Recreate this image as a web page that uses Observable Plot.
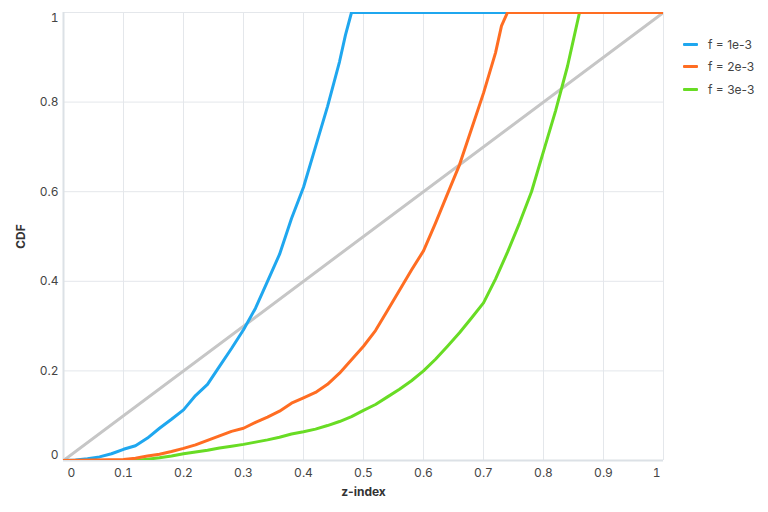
<!DOCTYPE html>
<html>
<head>
<meta charset="utf-8">
<script src="https://cdn.jsdelivr.net/npm/d3@7"></script>
<script src="https://cdn.jsdelivr.net/npm/@observablehq/plot@0.6"></script>
<style>
  body { margin: 0; background: #fff; font-family: Inter, "Noto Sans", sans-serif; }
  #wrap { position: relative; width: 768px; height: 512px; }
  g[aria-label="x-axis label"] text, g[aria-label="y-axis label"] text { font-weight: 700; fill: #333; }
  #legend { position: absolute; left: 683px; top: 33px; font-size: 12px; color: #444; }
  .row { display: flex; align-items: center; height: 22.5px; }
  .sw { width: 15px; height: 3px; margin-right: 10px; border-radius: 1px; }
</style>
</head>
<body>
<div id="wrap"><div id="legend"></div></div>
<script>
const seriesNames = ["f = 1e-3", "f = 2e-3", "f = 3e-3"];
const colors = ["#1fa7ef", "#ff6d22", "#68dc24"];
const diagColor = "#c6c6c6";

const blueX = [0, 0.02, 0.04, 0.06, 0.08, 0.10, 0.12, 0.14, 0.16, 0.18, 0.20, 0.22, 0.24, 0.26, 0.28, 0.30, 0.32, 0.34, 0.36, 0.38, 0.40, 0.42, 0.44, 0.46, 0.47, 0.48, 1.0];
const blueY = [0, 0.001, 0.004, 0.008, 0.015, 0.025, 0.033, 0.05, 0.072, 0.092, 0.113, 0.145, 0.17, 0.21, 0.25, 0.292, 0.34, 0.40, 0.46, 0.54, 0.61, 0.70, 0.79, 0.89, 0.95, 1.0, 1.0];

const orangeX = [0, 0.1, 0.12, 0.14, 0.16, 0.18, 0.20, 0.22, 0.24, 0.26, 0.28, 0.30, 0.32, 0.34, 0.36, 0.38, 0.40, 0.42, 0.44, 0.46, 0.48, 0.50, 0.52, 0.54, 0.56, 0.58, 0.60, 0.62, 0.64, 0.66, 0.68, 0.70, 0.72, 0.73, 0.74, 1.0];
const orangeY = [0, 0.002, 0.005, 0.01, 0.014, 0.02, 0.027, 0.035, 0.045, 0.055, 0.065, 0.072, 0.085, 0.097, 0.11, 0.128, 0.14, 0.152, 0.17, 0.195, 0.225, 0.255, 0.29, 0.335, 0.38, 0.425, 0.468, 0.53, 0.595, 0.66, 0.74, 0.82, 0.91, 0.97, 1.0, 1.0];

const greenX = [0, 0.12, 0.14, 0.16, 0.18, 0.20, 0.22, 0.24, 0.26, 0.28, 0.30, 0.32, 0.34, 0.36, 0.38, 0.40, 0.42, 0.44, 0.46, 0.48, 0.50, 0.52, 0.54, 0.56, 0.58, 0.60, 0.62, 0.64, 0.66, 0.68, 0.70, 0.72, 0.74, 0.76, 0.78, 0.80, 0.82, 0.84, 0.85, 0.86, 1.0];
const greenY = [0, 0, 0.003, 0.006, 0.01, 0.015, 0.019, 0.023, 0.028, 0.032, 0.036, 0.041, 0.046, 0.052, 0.059, 0.064, 0.07, 0.078, 0.087, 0.098, 0.112, 0.125, 0.142, 0.159, 0.178, 0.2, 0.226, 0.255, 0.285, 0.318, 0.352, 0.405, 0.465, 0.53, 0.6, 0.69, 0.78, 0.88, 0.94, 1.0, 1.0];

const diagX = [0, 1];
const diagY = [0, 1];

const xTicks = [0, 0.1, 0.2, 0.3, 0.4, 0.5, 0.6, 0.7, 0.8, 0.9, 1];
const yTicks = [0, 0.2, 0.4, 0.6, 0.8, 1];

const toRows = (xs, ys, s) => xs.map((x, i) => ({x, y: ys[i], s}));
const blueRows = toRows(blueX, blueY, seriesNames[0]);
const orangeRows = toRows(orangeX, orangeY, seriesNames[1]);
const greenRows = toRows(greenX, greenY, seriesNames[2]);
const diag = toRows(diagX, diagY, "diag");

const fmt = d => String(d);
const lineOpts = {x: "x", y: "y", stroke: "s", strokeWidth: 3, clip: true};

const chart = Plot.plot({
  width: 768,
  height: 512,
  marginLeft: 63,
  marginRight: 105,
  marginTop: 12,
  marginBottom: 52,
  style: {fontFamily: "Inter, 'Noto Sans', sans-serif", fontSize: "12px", color: "#444", background: "#fff"},
  x: {domain: [0, 1]},
  y: {domain: [0, 1]},
  color: {domain: seriesNames, range: colors},
  marks: [
    Plot.gridX(xTicks.slice(1), {stroke: "#e4e7eb", strokeOpacity: 1}),
    Plot.gridY(yTicks.slice(1), {stroke: "#e4e7eb", strokeOpacity: 1}),
    Plot.axisX(xTicks.slice(1, -1), {tickSize: 0, tickPadding: 8, tickFormat: fmt, fill: "#444", label: "z-index", labelAnchor: "center", labelArrow: "none", labelOffset: 35}),
    Plot.axisX([0], {tickSize: 0, tickPadding: 8, tickFormat: fmt, fill: "#444", textAnchor: "start", dx: 4, label: null}),
    Plot.axisX([1], {tickSize: 0, tickPadding: 8, tickFormat: fmt, fill: "#444", textAnchor: "end", dx: -3, label: null}),
    Plot.axisY(yTicks.slice(1, -1), {tickSize: 0, tickPadding: 5, tickFormat: fmt, fill: "#444", label: "CDF", labelAnchor: "center", labelArrow: "none", labelOffset: 47}),
    Plot.axisY([0], {tickSize: 0, tickPadding: 5, tickFormat: fmt, fill: "#444", dy: -5, label: null}),
    Plot.axisY([1], {tickSize: 0, tickPadding: 5, tickFormat: fmt, fill: "#444", dy: 6, label: null}),
    Plot.ruleX([0], {stroke: "#dce1e6", strokeWidth: 2}),
    Plot.ruleY([0], {stroke: "#dce1e6", strokeWidth: 2}),
    Plot.line(diag, {x: "x", y: "y", stroke: diagColor, strokeWidth: 3, clip: true}),
    Plot.line(greenRows, lineOpts),
    Plot.line(blueRows, lineOpts),
    Plot.line(orangeRows, lineOpts)
  ]
});
document.getElementById("wrap").prepend(chart);

const legend = document.getElementById("legend");
seriesNames.forEach((name, i) => {
  const row = document.createElement("div");
  row.className = "row";
  const sw = document.createElement("div");
  sw.className = "sw";
  sw.style.background = colors[i];
  const t = document.createElement("span");
  t.textContent = name;
  row.append(sw, t);
  legend.append(row);
});
</script>
</body>
</html>
